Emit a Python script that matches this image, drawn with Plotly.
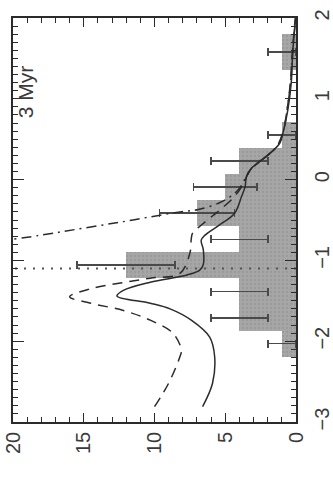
import numpy as np
import plotly.graph_objects as go

# Histogram bins (bin centre) and number of objects per bin
bin_centers = [-2.03, -1.71, -1.385, -1.06, -0.74, -0.415, -0.09, 0.23, 0.555, 1.58]
counts = [1, 4, 4, 12, 4, 7, 5, 4, 1, 1]

# Model curves: position along the bin axis and the expected number
solid_x = [-2.81, -2.52, -2.19, -1.95, -1.74, -1.60, -1.53, -1.44, -1.37, -1.27, -1.18,
           -1.12, -1.05, -0.87, -0.75, -0.69, -0.56, -0.42, -0.21, -0.09, 0.04, 0.14,
           0.24, 0.30, 0.45, 0.57, 0.86, 1.19, 1.61, 1.97]
solid_n = [6.6, 5.9, 5.75, 6.1, 7.4, 8.9, 10.3, 12.65, 12.2, 10.3, 7.7,
           6.8, 6.55, 6.55, 6.7, 6.45, 5.4, 4.35, 3.85, 3.6, 3.5, 3.15,
           2.45, 2.0, 1.15, 0.93, 0.58, 0.34, 0.22, 0.04]

dashed_x = [-2.81, -2.52, -2.19, -2.11, -1.90, -1.74, -1.62, -1.53, -1.45, -1.35, -1.28,
            -1.22, -1.16, -0.91, -0.73, -0.66, -0.55, -0.45, -0.35, -0.20, -0.05, 0.10,
            0.25, 0.40, 0.60, 0.90, 1.20, 1.60, 2.00]
dashed_n = [10.0, 9.0, 8.2, 8.1, 8.7, 10.3, 12.2, 14.5, 16.0, 14.5, 12.4,
            10.3, 8.2, 7.5, 7.4, 7.3, 6.6, 5.9, 5.2, 4.3, 3.7, 3.3,
            2.4, 1.4, 0.9, 0.6, 0.4, 0.25, 0.05]

dashdot_x = [-0.80, -0.69, -0.60, -0.52, -0.44, -0.40, -0.37, -0.27, -0.13, 0.04, 0.15,
             0.26, 0.35, 0.45, 0.60, 0.90, 1.20, 1.60, 2.00]
dashdot_n = [22.5, 18.1, 15.0, 12.2, 9.6, 8.2, 6.9, 5.2, 4.1, 3.5, 3.1,
             2.3, 1.7, 1.2, 0.9, 0.6, 0.38, 0.22, 0.03]

# Reference position marked by the dotted line
marker_pos = -1.1
panel_label = "3 Myr"

value_ticks = [0, 5, 10, 15, 20]
bin_ticks = [-3, -2, -1, 0, 1, 2]

# bar widths: regular bins, the last one is a wider bin
bar_widths = [0.327] * 9 + [0.44]

ink = "#2b2b2b"
font = dict(family="Liberation Sans, Arial, sans-serif", size=20, color="#3a3a3a")

fig = go.Figure()

fig.add_trace(go.Bar(
    y=bin_centers, x=counts, orientation="h", width=bar_widths,
    marker=dict(color="#a2a2a2", line=dict(width=0),
                pattern=dict(shape=".", fgcolor="#8c8c8c", bgcolor="#a6a6a6",
                             size=4, solidity=0.25)),
    error_x=dict(type="data", array=list(np.sqrt(counts)), symmetric=True,
                 color="#4a4a4a", thickness=1.6, width=4),
    showlegend=False,
))

fig.add_trace(go.Scatter(
    x=[0, 20], y=[marker_pos, marker_pos], mode="lines",
    line=dict(color="#555555", width=2, dash="2px,7px"), showlegend=False))

fig.add_trace(go.Scatter(
    x=dashdot_n, y=dashdot_x, mode="lines", line_shape="spline",
    line=dict(color=ink, width=1.5, dash="10px,5px,2px,5px"), showlegend=False))

fig.add_trace(go.Scatter(
    x=dashed_n, y=dashed_x, mode="lines", line_shape="spline",
    line=dict(color=ink, width=1.5, dash="10px,7px"), showlegend=False))

fig.add_trace(go.Scatter(
    x=solid_n, y=solid_x, mode="lines", line_shape="spline",
    line=dict(color=ink, width=1.5), showlegend=False))

fig.add_annotation(x=19.1, y=1.09, text=panel_label, textangle=-90,
                   showarrow=False, font=dict(font, size=21))

axis_common = dict(
    showline=True, linecolor=ink, linewidth=1.5, mirror="ticks",
    ticks="inside", tickcolor=ink, tickwidth=1.3, showgrid=False,
    zeroline=False, tickfont=font, tickangle=-90, automargin=False,
)

fig.update_xaxes(range=[20, 0], tickvals=value_ticks, ticklen=9,
                 minor=dict(dtick=1, ticks="inside", ticklen=5, tickcolor=ink,
                            showgrid=False),
                 **axis_common)
fig.update_yaxes(range=[-3, 2], tickvals=bin_ticks, ticklen=11, side="right",
                 ticklabelstandoff=7,
                 minor=dict(dtick=0.1, ticks="inside", ticklen=5, tickcolor=ink,
                            showgrid=False),
                 **axis_common)

fig.update_layout(
    width=333, height=479,
    margin=dict(l=13, r=37, t=18, b=57),
    paper_bgcolor="white", plot_bgcolor="white",
    bargap=0,
)

fig.write_html("out.html")
